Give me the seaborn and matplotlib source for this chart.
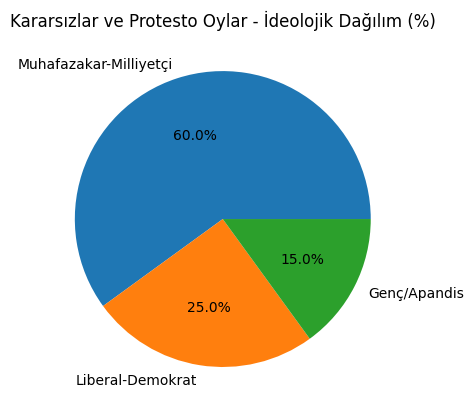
import matplotlib
matplotlib.use("Agg")
import seaborn as sns
import matplotlib.pyplot as plt

labels = ["Muhafazakar-Milliyetçi", "Liberal-Demokrat", "Genç/Apandis"]
shares = [60, 25, 15]

colors = sns.color_palette("tab10", 3)

fig = plt.figure(figsize=(4.73, 4.14), dpi=100)
ax = fig.add_axes([0.080, 0.0215, 0.782, 0.894])
ax.pie(shares, labels=labels, autopct="%1.1f%%", colors=colors)
ax.set_title("Kararsızlar ve Protesto Oylar - İdeolojik Dağılım (%)")
ax.set_aspect("equal")
plt.savefig("out.png", dpi=100)
